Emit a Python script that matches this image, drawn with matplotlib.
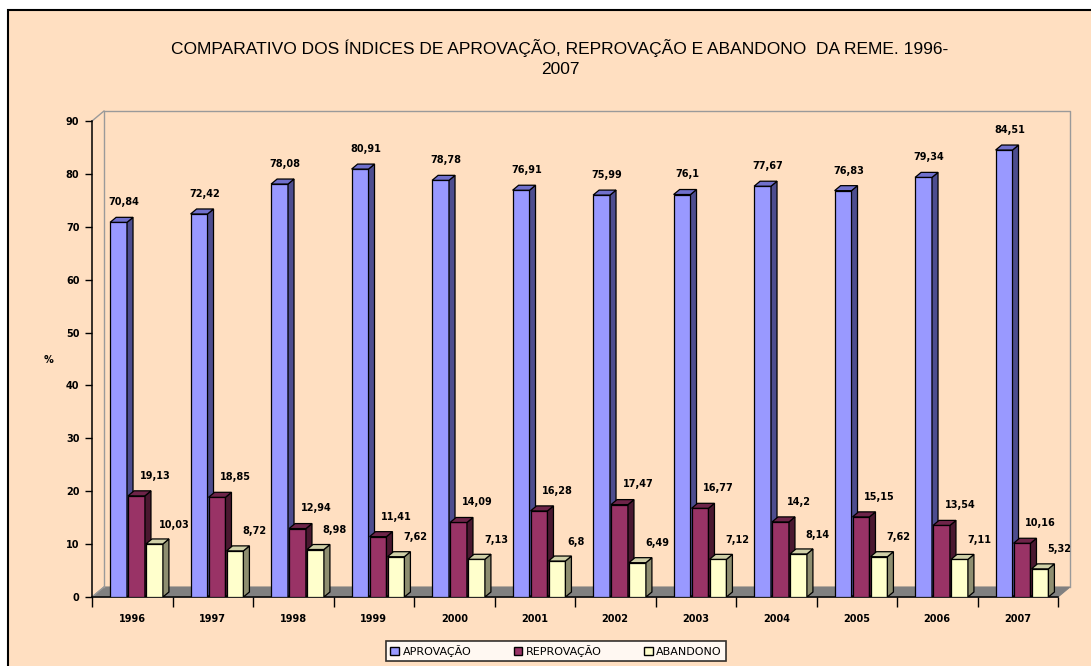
import matplotlib
matplotlib.use("Agg")
import matplotlib.pyplot as plt
from matplotlib.patches import Polygon, Rectangle, Patch
from matplotlib.lines import Line2D

years = ["1996", "1997", "1998", "1999", "2000", "2001", "2002", "2003", "2004", "2005", "2006", "2007"]
aprovacao = [70.84, 72.42, 78.08, 80.91, 78.78, 76.91, 75.99, 76.1, 77.67, 76.83, 79.34, 84.51]
reprovacao = [19.13, 18.85, 12.94, 11.41, 14.09, 16.28, 17.47, 16.77, 14.2, 15.15, 13.54, 10.16]
abandono = [10.03, 8.72, 8.98, 7.62, 7.13, 6.8, 6.49, 7.12, 8.14, 7.62, 7.11, 5.32]
series_names = ["APROVAÇÃO", "REPROVAÇÃO", "ABANDONO"]
yticks = [0, 10, 20, 30, 40, 50, 60, 70, 80, 90]
title = "COMPARATIVO DOS ÍNDICES DE APROVAÇÃO, REPROVAÇÃO E ABANDONO  DA REME. 1996-\n2007"

BG = "#FFDFC1"
front = ["#9999FF", "#993366", "#FFFFCC"]
side = ["#4D4D8F", "#4A1830", "#8E8E70"]
top = ["#7070CC", "#6E2449", "#D0D0A8"]
offsets = [-0.17, 0.053, 0.276]
width = 0.21
lbl_off = [(4, 14.5), (13.5, 14.5), (14, 14)]

W, H = 1091, 666
fig = plt.figure(figsize=(W / 100, H / 100), dpi=100, facecolor="white")
fig.patches.append(Rectangle((8 / W, -0.05), 1.1, (H - 10) / H + 0.05, transform=fig.transFigure,
                             facecolor=BG, edgecolor="black", lw=1.5, zorder=-10))

ax = fig.add_axes([92 / W, (H - 597) / H, 966 / W, 476 / H])
ax.set_facecolor("none")
ax.set_xlim(-0.5, 11.5)
ax.set_ylim(0, 90)

pxx = 966 / 12.0
pxy = 476 / 90.0
dxw, dyw = 12 / pxx, 10 / pxy
dxb, dyb = 6 / pxx, 5 / pxy
n = len(years)
x0, x1 = -0.5, n - 0.5

# walls and floor
ax.add_patch(Polygon([(x0, 0), (x0 + dxw, dyw), (x1 + dxw, dyw), (x1, 0)], closed=True,
                     facecolor="#808080", edgecolor="#808080", lw=0.8, clip_on=False, zorder=0))
wall = dict(color="#9A9A9A", lw=1.0, clip_on=False, zorder=0)
ax.add_line(Line2D([x0 + dxw, x0 + dxw, x1 + dxw, x1 + dxw], [dyw, 90 + dyw, 90 + dyw, dyw], **wall))
ax.add_line(Line2D([x0, x0 + dxw], [90, 90 + dyw], **wall))
ax.add_line(Line2D([x0, x0 + dxw], [0, dyw], **wall))

data = [aprovacao, reprovacao, abandono]
for s, vals in enumerate(data):
    xs = [i + offsets[s] for i in range(n)]
    ax.bar(xs, vals, width=width, color=front[s], edgecolor="black", lw=0.9, zorder=2 + s * 2)
    for xc, v in zip(xs, vals):
        a, b = xc - width / 2, xc + width / 2
        ax.add_patch(Polygon([(b, 0), (b + dxb, dyb), (b + dxb, v + dyb), (b, v)], closed=True,
                             facecolor=side[s], edgecolor="black", lw=0.9, zorder=2 + s * 2))
        ax.add_patch(Polygon([(a, v), (a + dxb, v + dyb), (b + dxb, v + dyb), (b, v)], closed=True,
                             facecolor=top[s], edgecolor="black", lw=0.9, zorder=2 + s * 2))
        ax.annotate(f"{v:g}".replace(".", ","), (xc, v), xytext=lbl_off[s], textcoords="offset points",
                    ha="center", va="center", fontsize=7, fontweight="bold",
                    family="DejaVu Sans", zorder=20)

for sp in ["top", "right"]:
    ax.spines[sp].set_visible(False)
for sp in ["left", "bottom"]:
    ax.spines[sp].set_linewidth(1.1)
    ax.spines[sp].set_zorder(1)

ax.set_yticks(yticks)
ax.set_yticklabels([str(t) for t in yticks], fontsize=7, fontweight="bold", family="DejaVu Sans")
ax.tick_params(axis="y", length=5, width=1, pad=4)
ax.set_xticks(range(n))
ax.set_xticklabels(years, fontsize=7, fontweight="bold", family="DejaVu Sans")
ax.set_xticks([i - 0.5 for i in range(n + 1)], minor=True)
ax.tick_params(axis="x", which="major", length=0, pad=12)
ax.tick_params(axis="x", which="minor", length=7, width=1)

fig.text(48 / W, 1 - 360 / H, "%", fontsize=7, fontweight="bold", ha="center", va="center")
fig.text(560 / W, 1 - 58 / H, title, fontsize=12.5, ha="center", va="center",
         family="Liberation Sans", linespacing=1.4)

handles = [Patch(facecolor=front[i], edgecolor="black", lw=1) for i in range(3)]
leg = fig.legend(handles, series_names, loc="center", bbox_to_anchor=(556 / W, 1 - 651 / H),
                 ncol=3, fontsize=8, frameon=True, fancybox=False, handlelength=0.8,
                 handleheight=0.8, handletextpad=0.3, columnspacing=3.8, borderpad=0.35)
leg.get_frame().set_edgecolor("black")
leg.get_frame().set_linewidth(1.2)
leg.get_frame().set_facecolor("white")

fig.savefig("out.png", dpi=100, facecolor="white")
